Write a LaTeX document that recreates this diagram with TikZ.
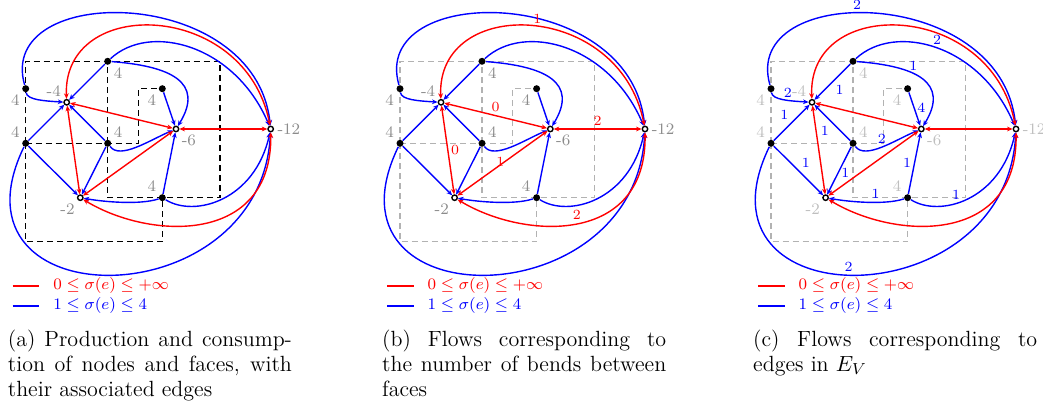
\documentclass[tikz,border=0pt]{standalone}
\usepackage{amsmath,amssymb}
\usepackage{tikz}
\usetikzlibrary{arrows.meta,backgrounds}

\tolerance=10000
\hbadness=10000

% one panel: orthogonal drawing, vertices, faces and their flow edges
\newcommand{\flowgraph}{%
    % vertices
    \node[vtx, label={[glab]below left:4}]  (v1) at (25.7, 88.7)   {};
    \node[vtx, label={[glab]below right:4}] (v2) at (107.7, 61.3)  {};
    \node[vtx, label={[glab]above left:4}]  (v3) at (25.7, 143.3)  {};
    \node[vtx, label={[glab]above right:4}] (v4) at (107.7, 143.3) {};
    \node[vtx, label={[glab]below left:4}]  (v5) at (162.3, 88.7)  {};
    \node[vtx, label={[glab]above left:4}]  (v6) at (162.3, 197.7) {};
    % faces
    \node[fnode, label={[glab]above left:-4}]  (f1) at (66.7, 102.3) {};
    \node[fnode, label={[glab]below right:-6}] (f2) at (176, 129)    {};
    \node[fnode, label={[glab]below left:-2}]  (f3) at (80.3, 197.7) {};
    \node[fnode, label={[glab]right:-12}]      (f4) at (270.7, 129)  {};
    % orthogonal drawing
    \begin{pgfonlayer}{background}
        \draw[ortho] (v3.center) -- (v1.center) |- (v2.center) -- (220, 61.3)
            |- (v6.center) -| (v4.center) -- (v2.center);
        \draw[ortho] (v3.center) -- (v4.center) -- (138.3, 143.3) |- (v5.center);
        \draw[ortho] (v3.center) -- (25.7, 241.7) -| (v6.center);
    \end{pgfonlayer}
    % vertex -> face
    \draw[bedge] (v1) .. controls (27, 100) and (45, 101) .. (f1) coordinate[pos=0.6] (e11);
    \draw[bedge] (v1) .. controls (-5, -18) and (255, -16) .. (f4) coordinate[pos=0.45] (e14);
    \draw[bedge] (v2) -- (f1) coordinate[pos=0.5] (e21);
    \draw[bedge] (v2) .. controls (170, 66) and (205, 82) .. (f2) coordinate[pos=0.4] (e22);
    \draw[bedge] (v2) .. controls (150, 22) and (235, 45) .. (f4) coordinate[pos=0.5] (e24);
    \draw[bedge] (v3) -- (f1) coordinate[pos=0.5] (e31);
    \draw[bedge] (v3) -- (f3) coordinate[pos=0.5] (e33);
    \draw[bedge] (v3) .. controls (-60, 320) and (260, 320) .. (f4) coordinate[pos=0.48] (e34);
    \draw[bedge] (v4) -- (f1) coordinate[pos=0.5] (e41);
    \draw[bedge] (v4) .. controls (120, 160) and (150, 140) .. (f2) coordinate[pos=0.5] (e42);
    \draw[bedge] (v4) -- (f3) coordinate[pos=0.55] (e43);
    \draw[bedge] (v5) -- (f2) coordinate[pos=0.45] (e52);
    \draw[bedge] (v6) -- (f2) coordinate[pos=0.5] (e62);
    \draw[bedge] (v6) .. controls (140, 205) and (105, 202) .. (f3) coordinate[pos=0.4] (e63);
    \draw[bedge] (v6) .. controls (195, 218) and (255, 200) .. (f4) coordinate[pos=0.4] (e64);
    % face <-> face
    \draw[redge] (f1) -- (f2) coordinate[pos=0.5] (r12);
    \draw[redge] (f1) -- (f3) coordinate[pos=0.5] (r13);
    \draw[redge] (f2) -- (f3) coordinate[pos=0.5] (r23);
    \draw[redge] (f2) -- (f4) coordinate[pos=0.5] (r24);
    \draw[redge] (f1) .. controls (62, -5) and (245, 0) .. (f4) coordinate[pos=0.52] (r14);
    \draw[redge] (f3) .. controls (150, 240) and (272, 245) .. (f4) coordinate[pos=0.5] (r34);
    % legend
    \draw[legline, red]  (12.7, 286) -- (39.3, 286);
    \draw[legline, blue] (12.7, 306) -- (39.3, 306);
    \node[legtext, text=red]  (legr) at (53, 286) {$0 \le \sigma(e) \le +\infty$};
    \node[legtext, text=blue] (legb) at (53, 306) {$1 \le \sigma(e) \le 4$};
}

\begin{document}
\begin{tikzpicture}[
    x=0.5pt, y=-0.5pt,
    >={Stealth[length=2.8pt,width=2.4pt]},
    vtx/.style={
        circle,
        fill=black,
        inner sep=0pt,
        minimum size=3.5pt
    },
    fnode/.style={
        circle,
        draw=black,
        fill=white,
        line width=0.7pt,
        inner sep=0pt,
        minimum size=2.7pt
    },
    glab/.style={
        font=\footnotesize,
        text=black!45,
        inner sep=1.5pt
    },
    flab/.style={
        font=\scriptsize,
        inner sep=1.5pt
    },
    ortho/.style={
        black,
        line width=0.6pt,
        dash pattern=on 3pt off 2pt
    },
    bedge/.style={blue, line width=0.7pt, ->},
    redge/.style={red, line width=0.7pt, <->},
    legline/.style={line width=0.6pt},
    legtext/.style={font=\footnotesize, anchor=west, inner sep=0pt},
    subcap/.style={
        anchor=north west,
        text width=142pt,
        align=justify,
        inner sep=0pt,
        font=\fontsize{11}{12.3}\selectfont
    }
]

\useasboundingbox (0, 0) rectangle (1043, 405);

% ------------------------------------------------
% (a) Production and consumption
% ------------------------------------------------

\begin{scope}[name prefix=a-]
    \flowgraph
    \node[subcap] (capa) at (7.5, 330)
        {(a) Production and consump-\linebreak tion of nodes and faces, with\linebreak their associated edges};
\end{scope}

% ------------------------------------------------
% (b) Bends between faces
% ------------------------------------------------

\begin{scope}[shift={(374.3, 0)}, name prefix=b-,
    ortho/.append style={black!30}]
    \flowgraph

    \node[flab, text=red, above] at (r14) {1};
    \node[flab, text=red, above] at (r12) {0};
    \node[flab, text=red, above] at (r24) {2};
    \node[flab, text=red, right] at (r13) {0};
    \node[flab, text=red, xshift=-1.1pt, yshift=0.7pt] at (r23) {1};
    \node[flab, text=red, above] at (r34) {2};

    \node[subcap] (capb) at (7.5, 330)
        {(b) Flows corresponding to\linebreak the number of bends between\linebreak faces};
\end{scope}

% ------------------------------------------------
% (c) Edges in E_V
% ------------------------------------------------

\begin{scope}[shift={(745.3, 0)}, name prefix=c-,
    ortho/.append style={black!30},
    glab/.append style={text=black!25}]
    \flowgraph

    \node[flab, text=blue, above]       at (e14) {2};
    \node[flab, text=blue, above]       at (e24) {2};
    \node[flab, text=blue, above]       at (e22) {1};
    \node[flab, text=blue, above]       at (e11) {2};
    \node[flab, text=blue, below right] at (e21) {1};
    \node[flab, text=blue, right]       at (e52) {4};
    \node[flab, text=blue, above left]  at (e31) {1};
    \node[flab, text=blue, below left]  at (e41) {1};
    \node[flab, text=blue, above]       at (e42) {2};
    \node[flab, text=blue, above right] at (e33) {1};
    \node[flab, text=blue, right]       at (e43) {1};
    \node[flab, text=blue, left]        at (e62) {1};
    \node[flab, text=blue, above]       at (e63) {1};
    \node[flab, text=blue, above]       at (e64) {1};
    \node[flab, text=blue, above]       at (e34) {2};

    \node[subcap] (capc) at (7.5, 330)
        {(c) Flows corresponding to\linebreak edges in $E_V$};
\end{scope}

\end{tikzpicture}
\end{document}
